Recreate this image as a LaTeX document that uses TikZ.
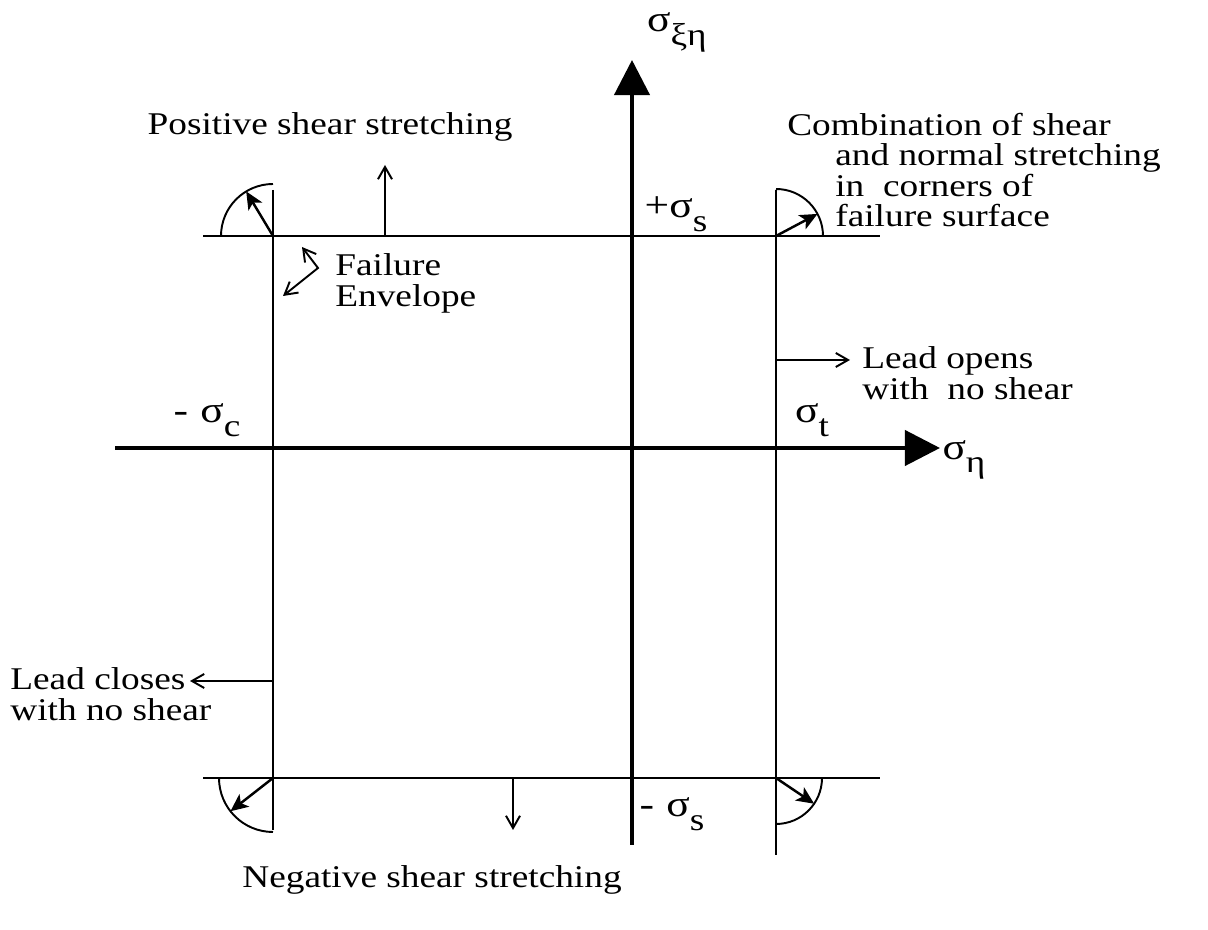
\documentclass[tikz,border=0pt]{standalone}
\usepackage{fontspec}
\setmainfont{Liberation Serif}[FakeStretch=1.18]
\usepackage{tikz}
\usetikzlibrary{arrows.meta,positioning,calc}
\newcommand{\lowsub}[1]{\raisebox{-0.8ex}{\fontsize{18}{18}\selectfont #1}}
\tikzset{
  axis/.style={line width=2.3pt, -{Triangle[length=20pt, width=20pt]}},
  envelope/.style={line width=1.1pt},
  arrow/.style={line width=1.1pt, -{Straight Barb[length=7pt, width=8pt]}},
  stretch/.style={line width=1.4pt, -{Stealth[length=10pt, width=9pt, inset=2.5pt]}},
  lbl/.style={inner sep=1pt, font=\fontsize{21}{21}\selectfont},
  txt/.style={inner sep=0pt, align=left, font=\fontsize{18}{17.5}\selectfont}
}

\begin{document}
\begin{tikzpicture}[x=0.02cm, y=0.02cm]
\useasboundingbox (0,0) rectangle (1208,930);
% axes
\coordinate (vb) at (632,85);
\coordinate (vt) at (632,870);
\coordinate (hl) at (115,482);
\coordinate (hr) at (940,482);
\draw[axis] (vb) -- (vt);
\draw[axis] (hl) -- (hr);
% failure envelope
\coordinate (tl) at (203,694);
\coordinate (tr) at (880,694);
\coordinate (bl) at (203,152);
\coordinate (br) at (880,152);
\coordinate (lt) at (273,740);
\coordinate (lb) at (273,100);
\coordinate (rt) at (776,740);
\coordinate (rb) at (776,75);
\draw[envelope] (tl) -- (tr);
\draw[envelope] (bl) -- (br);
\draw[envelope] (lt) -- (lb);
\draw[envelope] (rt) -- (rb);
% corners
\coordinate (ctl) at (273,694);
\coordinate (ctr) at (776,694);
\coordinate (cbl) at (273,152);
\coordinate (cbr) at (776,152);
\draw[envelope] ($(ctl)+(-52,0)$) arc (180:90:52);
\draw[stretch] (ctl) -- ++(121:52);
\draw[envelope] ($(ctr)+(0,47)$) arc (90:0:47);
\draw[stretch] (ctr) -- ++(28:47);
\draw[envelope] ($(cbl)+(-54,0)$) arc (180:270:54);
\draw[stretch] (cbl) -- ++(218:54);
\draw[envelope] ($(cbr)+(46,0)$) arc (0:-90:46);
\draw[stretch] (cbr) -- ++(-34:46);
% shear stretching
\coordinate (ps0) at (385,694);
\coordinate (ps1) at (385,765);
\coordinate (ns0) at (513,152);
\coordinate (ns1) at (513,100);
\draw[arrow] (ps0) -- (ps1);
\draw[arrow] (ns0) -- (ns1);
\node[txt] (pos) at (330,803) {Positive shear stretching};
\node[txt] (neg) at (432,50) {Negative shear stretching};
% labels on axes
\node[lbl, anchor=base west] (sxe) at (645,898) {σ\lowsub{ξη}};
\node[lbl] (sps) at (676,716) {+σ\lowsub{s}};
\node[lbl] (sms) at (672,116) {-\,\,σ\lowsub{s}};
\node[lbl] (smc) at (207,510) {-\,\,σ\lowsub{c}};
\node[lbl] (st) at (812,510) {σ\lowsub{t}};
\node[lbl] (sn) at (964,470) {σ\lowsub{η}};
% failure envelope note
\node[txt, anchor=north west] (fail) at (335,677) {Failure\\Envelope};
\coordinate (fa) at (302,683);
\coordinate (fb) at (318,662);
\coordinate (fc) at (283,634);
\draw[arrow, {Straight Barb[length=7pt, width=8pt]}-{Straight Barb[length=7pt, width=8pt]}] (fa) -- (fb) -- (fc);
% lead opens / closes
\coordinate (lo) at (776,570);
\coordinate (loe) at (850,570);
\node[txt, anchor=north west] (open) at (862,584) {Lead opens\\with\ \ no shear};
\draw[arrow] (lo) -- (loe);
\coordinate (lc) at (273,249);
\coordinate (lce) at (190,249);
\node[txt, anchor=north west] (close) at (10,263) {Lead closes\\with no shear};
\draw[arrow] (lc) -- (lce);
% corners note
\node[txt, anchor=north west] (comb) at (787,817) {Combination of shear};
\node[txt, anchor=north west] (comb2) at (835,787) {and normal stretching\\in\ \ corners of\\failure surface};
\end{tikzpicture}
\end{document}
